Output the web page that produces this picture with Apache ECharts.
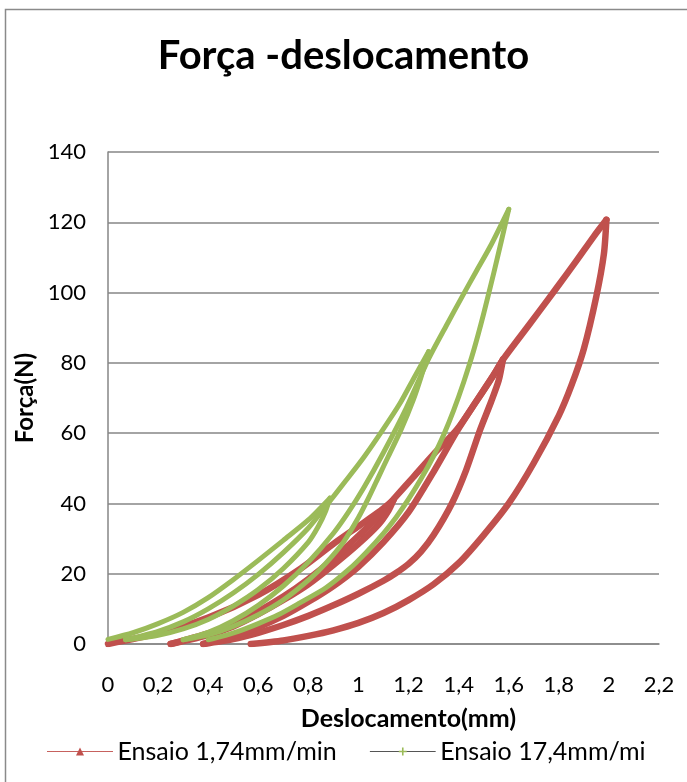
<!DOCTYPE html>
<html>
<head>
<meta charset="utf-8">
<script src="https://cdn.jsdelivr.net/npm/echarts@6/dist/echarts.min.js"></script>
<style>
html, body { margin: 0; padding: 0; background: #fff; }
#chart { width: 687px; height: 782px; }
</style>
</head>
<body>
<div id="chart"></div>
<script>
// Axis ticks
var xTicks = { min: 0, max: 2.2, step: 0.2 };
var yTicks = { min: 0, max: 140, step: 20 };

// Ensaio 1,74mm/min — [deslocamento (mm), força (N)] per loading/unloading branch
var slowLoad40 = [[0,0],[0.2,3],[0.4,7.5],[0.6,14],[0.77,21.5],[0.9,28.5],[1.0,33.5],[1.08,37.5],[1.14,41]];
var slowUnload40 = [[1.14,41],[1.12,38],[1.08,34],[1.0,28.5],[0.9,22.5],[0.8,17],[0.7,12.5],[0.6,8.5],[0.5,5],[0.4,2.5],[0.3,0.8],[0.25,0]];
var slowLoad80 = [[0.25,0],[0.4,3],[0.5,5.8],[0.6,9.3],[0.7,13.5],[0.8,18.5],[0.9,24.3],[1.0,30.8],[1.086,36.8],[1.15,42],[1.219,47.5],[1.3,54],[1.393,61],[1.47,69],[1.539,76.5],[1.577,81]];
var slowUnload80 = [[1.577,81],[1.56,75],[1.53,69],[1.486,61],[1.43,49.5],[1.373,40],[1.3,31],[1.25,26.3],[1.2,22.8],[1.15,20.2],[1.1,18],[1.0,14.3],[0.9,11],[0.8,8],[0.7,5.4],[0.6,3.2],[0.5,1.4],[0.38,0]];
var slowLoad120 = [[0.38,0],[0.5,2.3],[0.6,4.8],[0.7,8],[0.8,12],[0.9,16.5],[1.0,22],[1.1,29],[1.2,37.5],[1.3,49],[1.393,60.5],[1.47,69],[1.539,76.5],[1.577,80.9],[1.646,87.5],[1.72,94.5],[1.793,101.5],[1.87,109],[1.94,116],[1.99,120.7]];
var slowUnload120 = [[1.99,120.7],[1.98,111],[1.95,99],[1.9,84],[1.85,73.5],[1.8,65],[1.7,51.5],[1.6,40],[1.5,31],[1.4,23],[1.3,17],[1.2,12.5],[1.1,8.8],[1.0,6],[0.9,3.9],[0.8,2.3],[0.7,1],[0.57,0]];

// Ensaio 17,4mm/mi
var fastLoad40 = [[0,1.3],[0.1,3.2],[0.2,5.8],[0.3,9],[0.4,13.2],[0.5,18.3],[0.6,23.8],[0.7,29.5],[0.8,35.3],[0.886,41.5]];
var fastUnload40 = [[0.886,41.5],[0.87,38],[0.84,33.5],[0.8,29],[0.7,21.5],[0.6,15.5],[0.5,10.8],[0.4,7],[0.3,4.3],[0.2,2.5],[0.1,1.4],[0.07,1.2]];
var fastLoad80 = [[0.07,1.2],[0.2,3.6],[0.3,6.3],[0.4,10],[0.5,14.5],[0.6,19.8],[0.7,26],[0.8,33],[0.873,39.5],[0.95,46.5],[1.02,53],[1.093,60.5],[1.166,68.5],[1.22,75.5],[1.28,83.2]];
var fastUnload80 = [[1.28,83.2],[1.25,76],[1.219,69.5],[1.17,61],[1.12,53.5],[1.08,47.5],[1.04,41.5],[1.0,36],[0.94,29],[0.87,23],[0.806,18.5],[0.7,12.5],[0.6,8.3],[0.5,5],[0.4,2.6],[0.3,1.2]];
var fastLoad120 = [[0.3,1.2],[0.4,3.3],[0.5,6.6],[0.6,11],[0.7,16.5],[0.8,23.3],[0.9,31.5],[0.96,37.5],[1.02,44.3],[1.1,54.5],[1.19,67],[1.279,81],[1.35,90.5],[1.419,99.5],[1.47,106],[1.526,113.1],[1.6,123.7]];
var fastUnload120 = [[1.6,123.7],[1.57,114.5],[1.54,105.5],[1.5,94],[1.46,83.5],[1.42,74.5],[1.38,66.5],[1.34,59.5],[1.3,53.5],[1.25,47],[1.2,41.2],[1.15,36],[1.1,31.5],[1.03,26],[0.966,21.5],[0.87,16],[0.766,11.7],[0.68,8.3],[0.6,5.8],[0.52,3.6],[0.45,2.1],[0.4,1.2]];

var slowName = 'Ensaio 1,74mm/min';
var fastName = 'Ensaio 17,4mm/mi';
var slowBranches = [slowLoad40, slowUnload40, slowLoad80, slowUnload80, slowLoad120, slowUnload120];
var fastBranches = [fastLoad40, fastUnload40, fastLoad80, fastUnload80, fastLoad120, fastUnload120];

var RED = '#C0504D';
var GREEN = '#9BBB59';
var FONT = 'Lato, "Open Sans", sans-serif';
var PLUS = 'path://M4,0H6V4H10V6H6V10H4V6H0V4H4Z';

function branchSeries(name, data, color, width, symbol, z) {
  return {
    type: 'line', name: name, data: data,
    smooth: 0.25, showSymbol: false, symbol: symbol,
    lineStyle: { color: color, width: width, join: 'round', cap: 'round' },
    itemStyle: { color: color },
    z: z, silent: true, animation: false
  };
}

var series = [];
slowBranches.forEach(function (d) { series.push(branchSeries(slowName, d, RED, 6.5, 'triangle', 2)); });
fastBranches.forEach(function (d) { series.push(branchSeries(fastName, d, GREEN, 5, PLUS, 3)); });

function comma(v) { return String(+v.toFixed(1)).replace('.', ','); }

var chart = echarts.init(document.getElementById('chart'));
chart.setOption({
  backgroundColor: '#fff',
  animation: false,
  title: {
    text: 'Força -deslocamento', left: 'center', top: 31,
    textStyle: { fontFamily: FONT, fontWeight: 'bold', fontSize: 40, color: '#000' }
  },
  grid: { left: 108, right: 28, top: 152, bottom: 138, containLabel: false },
  xAxis: {
    type: 'value', min: xTicks.min, max: xTicks.max, interval: xTicks.step,
    name: 'Deslocamento(mm)', nameLocation: 'middle', nameGap: 62,
    nameTextStyle: { fontFamily: FONT, fontWeight: 'bold', fontSize: 25, color: '#000', padding: [0, 0, 0, 50] },
    axisLine: { show: true, lineStyle: { color: '#868686', width: 1.5 } },
    axisTick: { show: false },
    splitLine: { show: false },
    axisLabel: { formatter: comma, fontFamily: FONT, fontSize: 22, color: '#000', margin: 30 }
  },
  yAxis: {
    type: 'value', min: yTicks.min, max: yTicks.max, interval: yTicks.step,
    name: 'Força(N)', nameLocation: 'middle', nameGap: 70, nameRotate: 90,
    nameTextStyle: { fontFamily: FONT, fontWeight: 'bold', fontSize: 24, color: '#000' },
    axisLine: { show: true, lineStyle: { color: '#868686', width: 1.5 } },
    axisTick: { show: false },
    splitLine: { show: true, lineStyle: { color: '#868686', width: 1.5 } },
    axisLabel: { fontFamily: FONT, fontSize: 22, color: '#000', margin: 22 }
  },
  legend: {
    left: 42, top: 734, itemWidth: 65, itemHeight: 10, itemGap: 33,
    textStyle: { fontFamily: FONT, fontSize: 25, color: '#000' },
    data: [
      { name: slowName, lineStyle: { color: RED, width: 1, type: 'dotted' }, itemStyle: { color: RED } },
      { name: fastName, lineStyle: { color: '#555555', width: 1, type: 'solid' }, itemStyle: { color: GREEN } }
    ]
  },
  graphic: [{
    type: 'rect', silent: true, z: -1,
    shape: { x: 5.5, y: 9.5, width: 720, height: 800 },
    style: { fill: 'none', stroke: '#8a8a8a', lineWidth: 1.5 }
  }],
  series: series
});
</script>
</body>
</html>
